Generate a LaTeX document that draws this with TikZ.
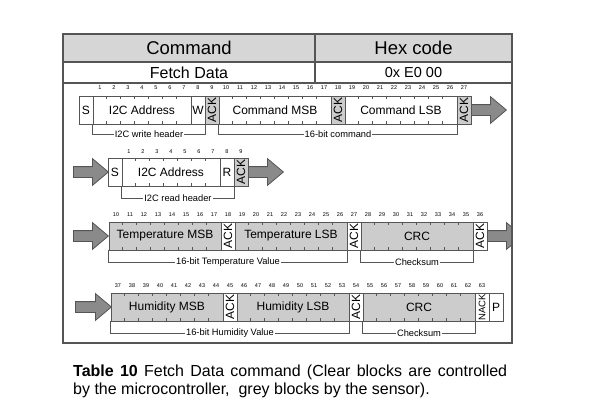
\documentclass[tikz,border=0pt]{standalone}
\usepackage{fontspec}
\setmainfont{Liberation Sans}
\usepackage{tikz}
\usetikzlibrary{shapes.arrows}
\definecolor{blockgrey}{RGB}{204, 204, 204}
\definecolor{headgrey}{RGB}{214, 214, 214}
\definecolor{arrowgrey}{RGB}{138, 138, 138}
\definecolor{edge}{RGB}{85, 85, 85}

\begin{document}
\begin{tikzpicture}[x=1pt, y=-1pt,
    field/.style={draw=edge, line width=0.8pt, minimum height=28pt, inner sep=0pt,
      font=\fontsize{12}{12}\selectfont},
    sensor/.style={fill=blockgrey},
    ackfield/.style={field, minimum width=28pt, minimum height=14pt, rotate=90},
    bitnum/.style={inner sep=0pt, font=\fontsize{5.5}{6}\selectfont},
    tick/.style={draw=edge, line width=0.6pt},
    bracket/.style={draw=edge, line width=0.6pt},
    brlabel/.style={fill=white, inner sep=1pt, font=\fontsize{9.3}{10}\selectfont},
    bigarrow/.style={single arrow, draw=edge, fill=arrowgrey, line width=0.8pt,
      minimum height=35pt, inner sep=5pt, single arrow head extend=8pt,
      single arrow tip angle=80, anchor=tail}]

  \fill[white] (0, 0) rectangle (595, 410);
  \useasboundingbox (0, 0) rectangle (595, 410);

  % table frame
  \fill[headgrey] (63, 34) rectangle (512, 62);
  \draw[edge, line width=1.2pt] (63, 34) rectangle (512, 343);
  \draw[edge, line width=1.2pt] (63, 62) -- (512, 62) (63, 83) -- (512, 83)
    (315, 34) -- (315, 83);
  \node[font=\fontsize{18.5}{20}\selectfont] (hcmd) at (189, 48) {Command};
  \node[font=\fontsize{18.5}{20}\selectfont] (hhex) at (413.5, 48) {Hex code};
  \node[font=\fontsize{16}{18}\selectfont] (fetch) at (189, 72.5) {Fetch Data};
  \node[font=\fontsize{14.5}{18}\selectfont] (code) at (413.5, 72.5) {0x E0 00};

  % write header and command
  \foreach \k in {1,...,27}
    \node[bitnum] (na-\k) at ({86 + 14*\k}, 88) {\k};
  \foreach \nm/\x/\n/\txt in {s1/86/1/S, addr1/142/7/I2C Address, w1/198/1/W,
      cmsb1/275/8/Command MSB, clsb1/401/8/Command LSB}
    \node[field, minimum width=\n*14pt] (\nm) at (\x, 110) {\txt};
  \foreach \nm/\x in {ack1a/212, ack1b/338, ack1c/464}
    \node[ackfield, sensor] (\nm) at (\x, 110) {ACK};
  \node[bigarrow] (out1) at (471, 110) {};
  \draw[bracket] (addr1.south west) -- ++(0, 10)
    -| node[pos=0.25, brlabel] {I2C write header} (w1.south east);
  \draw[bracket] (cmsb1.south west) -- ++(0, 10)
    -| node[pos=0.25, brlabel] {16-bit command} (clsb1.south east);

  % read header
  \foreach \k in {1,...,9}
    \node[bitnum] (nb-\k) at ({115 + 14*\k}, 152) {\k};
  \node[bigarrow] (in2) at (73, 172) {};
  \foreach \nm/\x/\n/\txt in {s2/115/1/S, addr2/171/7/I2C Address, r2/227/1/R}
    \node[field, minimum width=\n*14pt] (\nm) at (\x, 172) {\txt};
  \node[ackfield, sensor] (ack2) at (241, 172) {ACK};
  \node[bigarrow] (out2) at (248, 172) {};
  \draw[bracket] (addr2.south west) -- ++(0, 12)
    -| node[pos=0.25, brlabel] {I2C read header} (r2.south east);

  % temperature
  \foreach \k in {10,...,36}
    \node[bitnum] (nc-\k) at ({14*\k - 24}, 215) {\k};
  \node[bigarrow] (in3) at (73, 236) {};
  \foreach \nm/\x/\txt in {tmsb/165/Temperature MSB, tlsb/291/Temperature LSB, crc3/417/CRC}
    \node[field, sensor, minimum width=112pt] (\nm) at (\x, 236) {\txt};
  \foreach \nm/\x in {ack3a/228, ack3b/354, ack3c/480}
    \node[ackfield] (\nm) at (\x, 236) {ACK};
  \begin{scope}
    \clip (0, 0) rectangle (512, 410);
    \node[bigarrow] (out3) at (487, 236) {};
  \end{scope}
  \draw[edge, line width=1.2pt] (512, 200) -- (512, 270);
  \draw[bracket] (tmsb.south west) -- ++(0, 12)
    -| node[pos=0.25, brlabel] {16-bit Temperature Value} (tlsb.south east);
  \draw[bracket] (crc3.south west) -- ++(0, 12)
    -| node[pos=0.25, brlabel] {Checksum} (crc3.south east);

  % humidity
  \foreach \k in {37,...,63}
    \node[bitnum] (nd-\k) at ({14*\k - 400}, 286) {\k};
  \node[bigarrow, minimum height=36pt] (in4) at (75, 307) {};
  \foreach \nm/\x/\txt in {hmsb/167/Humidity MSB, hlsb/293/Humidity LSB, crc4/419/CRC}
    \node[field, sensor, minimum width=112pt] (\nm) at (\x, 307) {\txt};
  \foreach \nm/\x in {ack4a/230, ack4b/356}
    \node[ackfield] (\nm) at (\x, 307) {ACK};
  \node[ackfield, font=\fontsize{9.5}{10}\selectfont] (nack4) at (482, 307) {NACK};
  \node[field, minimum width=14pt] (p4) at (496, 307) {P};
  \draw[bracket] (hmsb.south west) -- ++(0, 12)
    -| node[pos=0.25, brlabel] {16-bit Humidity Value} (hlsb.south east);
  \draw[bracket] (crc4.south west) -- ++(0, 12)
    -| node[pos=0.25, brlabel] {Checksum} (crc4.south east);

  % bit ticks
  \foreach \f/\m in {addr1/6, cmsb1/7, clsb1/7, addr2/6, tmsb/7, tlsb/7, crc3/7,
      hmsb/7, hlsb/7, crc4/7}
    \foreach \i in {1,...,\m}
      \draw[tick] ([xshift=\i*14pt]\f.north west) -- ++(0, 3.5)
        ([xshift=\i*14pt]\f.south west) -- ++(0, -3.5);

  % caption
  \node[anchor=base west, inner sep=0pt, font=\fontsize{16}{17}\selectfont] (cap1)
    at (73, 376) {\makebox[434pt][s]{\textbf{Table 10} Fetch Data command (Clear blocks are controlled}};
  \node[anchor=base west, inner sep=0pt, font=\fontsize{16}{17}\selectfont] (cap2)
    at (73, 394) {by the microcontroller,\ \ grey blocks by the sensor).};

\end{tikzpicture}
\end{document}
